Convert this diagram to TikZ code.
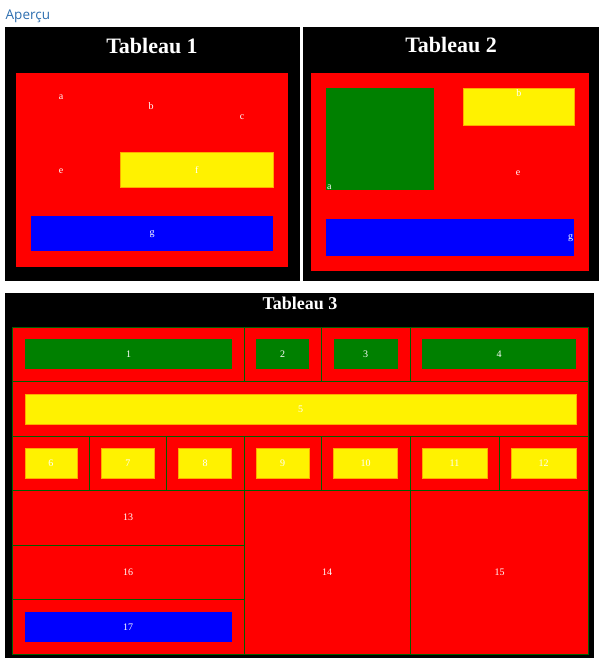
\documentclass[tikz,border=0pt]{standalone}
\usepackage{fontspec}
\setmainfont{Liberation Serif}
\newfontfamily\uifont{Open Sans}
\usepackage{xcolor}
\usetikzlibrary{positioning}
\definecolor{webgreen}{RGB}{0,128,0}
\definecolor{gridgreen}{RGB}{0,95,0}
\definecolor{linkblue}{RGB}{45,110,175}
\definecolor{edgeorange}{RGB}{255,170,0}

\begin{document}
\begin{tikzpicture}[x=1pt, y=-1pt,
  blk/.style 2 args={anchor=north west, inner sep=0pt, minimum width=#1, minimum height=#2},
  cell/.style 2 args={inner sep=0pt, minimum width=#1, minimum height=#2, text=white,
    font=\fontsize{10}{12}\selectfont},
  title/.style={text=white, inner sep=0pt},
  lbl/.style={text=white, font=\fontsize{10}{12}\selectfont, inner sep=1pt},
  ybox/.style={fill=yellow, draw=edgeorange, line width=0.6pt},
  grid/.style={draw=gridgreen, line width=1.5pt}
]
\useasboundingbox (0,0) rectangle (608,666);

\node[anchor=base west, inner sep=0pt, text=linkblue, font=\uifont\fontsize{13.5}{15}\selectfont]
  (aper) at (5.5,20) {Aperçu};

% Tableau 1
\node[blk={295}{254}, fill=black] (p1) at (5,27) {};
\node[title, font=\fontsize{22}{24}\selectfont\bfseries] (t1) at (152,46) {Tableau 1};
\node[blk={272}{194}, fill=red] (r1) at (16,73) {};
\node[blk={153}{35}, ybox] (y1) at (120,152) {};
\node[blk={242}{35}, fill=blue] (b1) at (31,216) {};
\node[lbl] (a1) at (61,97) {a};
\node[lbl] (bb1) at (151,106) {b};
\node[lbl] (c1) at (242,117) {c};
\node[lbl] (e1) at (61,171) {e};
\node[lbl] (f1) at (y1.center) {f};
\node[lbl] (g1) at (b1.center) {g};

% Tableau 2
\node[blk={296}{254}, fill=black] (p2) at (303,27) {};
\node[title, font=\fontsize{22}{24}\selectfont\bfseries] (t2) at (451,45) {Tableau 2};
\node[blk={278}{198}, fill=red] (r2) at (311,73) {};
\node[blk={108}{102}, fill=webgreen] (g2) at (326,88) {};
\node[blk={111}{37}, ybox] (y2) at (463,88) {};
\node[blk={248}{37}, fill=blue] (b2) at (326,219) {};
\node[lbl, anchor=south west] (a2) at (g2.south west) {a};
\node[lbl, anchor=north] (bb2) at (y2.north) {b};
\node[lbl] (e2) at (518,173) {e};
\node[lbl, anchor=east] (gg2) at (b2.east) {g};

% Tableau 3
\node[blk={589}{364.5}, fill=black] (p3) at (5,293) {};
\node[title, font=\fontsize{18}{20}\selectfont\bfseries] (t3) at (300,303) {Tableau 3};
\fill[red] (12.5,327.5) rectangle (588.5,654.5);
\draw[grid] (12.5,327.5) rectangle (588.5,654.5);
\foreach \yy in {381.5,436.5,490.5}
  \draw[grid] (12.5,\yy) -- (588.5,\yy);
\foreach \yy in {545.5,599.5}
  \draw[grid] (12.5,\yy) -- (244.5,\yy);
\foreach \xx in {244.5,321.5,410.5}
  \draw[grid] (\xx,327.5) -- (\xx,381.5);
\foreach \xx in {89.5,166.5,244.5,321.5,410.5,499.5}
  \draw[grid] (\xx,436.5) -- (\xx,490.5);
\foreach \xx in {244.5,410.5}
  \draw[grid] (\xx,490.5) -- (\xx,654.5);

\foreach \cx/\w/\n in {128.5/207/1, 282.5/53/2, 365.5/64/3, 499/154/4}
  \node[cell={\w}{30}, fill=webgreen] (n\n) at (\cx,354) {\n};
\node[cell={551}{30}, ybox] (n5) at (300.5,409) {5};
\foreach \cx/\w/\n in {50.8/52/6, 127.8/53/7, 205.1/53/8, 282.5/53/9,
    365.5/64/10, 454.5/65/11, 543.7/65/12}
  \node[cell={\w}{30}, ybox] (n\n) at (\cx,463.3) {\n};
\node[lbl] (n13) at (128,517.7) {13};
\node[lbl] (n14) at (327,572.3) {14};
\node[lbl] (n15) at (499.5,572.3) {15};
\node[lbl] (n16) at (128,572.3) {16};
\node[cell={207}{30}, fill=blue] (n17) at (128.2,626.7) {17};
\end{tikzpicture}
\end{document}
